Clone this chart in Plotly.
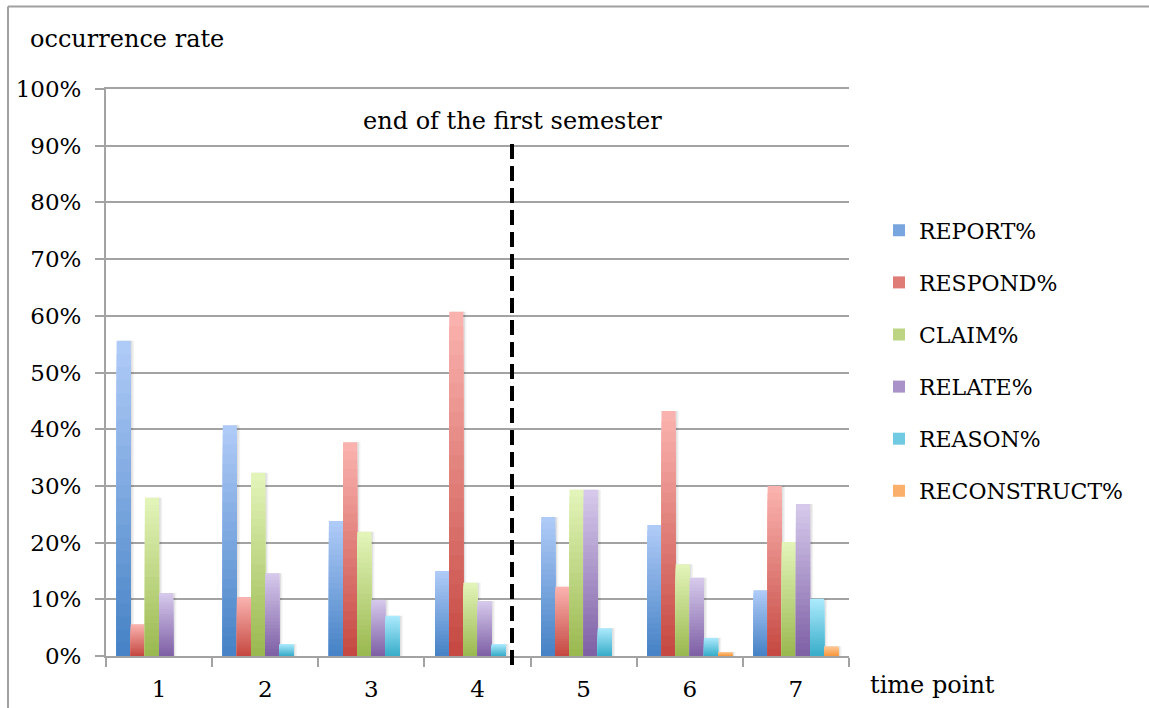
import plotly.graph_objects as go

# ---- data (occurrence rate, %) ----
time_points = ["1", "2", "3", "4", "5", "6", "7"]
report = [55.6, 40.7, 23.8, 15.0, 24.5, 23.1, 11.6]
respond = [5.6, 10.4, 37.7, 60.7, 12.2, 43.2, 30.0]
claim = [27.9, 32.3, 21.9, 12.9, 29.3, 16.2, 20.1]
relate = [11.1, 14.6, 9.9, 9.7, 29.3, 13.8, 26.8]
reason = [0.0, 2.1, 7.1, 2.1, 4.9, 3.2, 10.1]
reconstruct = [0.0, 0.0, 0.0, 0.0, 0.0, 0.7, 1.7]

series_names = ["REPORT%", "RESPOND%", "CLAIM%", "RELATE%", "REASON%", "RECONSTRUCT%"]
series_values = [report, respond, claim, relate, reason, reconstruct]

# (top colour, bottom colour) of each bar's vertical gradient
series_colors = [
    ("#aecaf7", "#4783c6"),
    ("#fab2ae", "#c64a43"),
    ("#e2f4b8", "#9bb951"),
    ("#d5c8eb", "#7f61a6"),
    ("#abe9fc", "#3aaeca"),
    ("#fec897", "#f79a40"),
]

# ---- layout constants ----
W, H = 1149, 708
M_L, M_R, M_T, M_B = 106, 300, 89, 52
PLOT_W = W - M_L - M_R
PLOT_H = H - M_T - M_B
FONT = "DejaVu Serif"
GRID = "#a3a3a3"

N_LAYERS = 24
GROUP_FRAC = 0.8
BAR_W = GROUP_FRAC / len(series_names)


def px_to_paper_x(px):
    return (px - M_L) / PLOT_W


def px_to_paper_y(py):
    return (H - M_B - py) / PLOT_H


def hex_to_rgb(h):
    h = h.lstrip("#")
    return tuple(int(h[i:i + 2], 16) for i in (0, 2, 4))


def mix(c_top, c_bot, t):
    a, b = hex_to_rgb(c_top), hex_to_rgb(c_bot)
    r = [round(a[i] + (b[i] - a[i]) * t) for i in range(3)]
    return f"rgb({r[0]},{r[1]},{r[2]})"


fig = go.Figure()

# soft drop shadows to the right of each bar
for k, vals in enumerate(series_values):
    off = -GROUP_FRAC / 2 + k * BAR_W
    for shift, alpha in ((0.03, 0.05), (0.016, 0.07)):
        fig.add_trace(go.Bar(
            x=time_points, y=vals, offset=off + shift, width=BAR_W,
            marker=dict(color=f"rgba(0,0,0,{alpha})", line=dict(width=0)),
            showlegend=False, hoverinfo="skip",
        ))

# gradient bars: stacked-down layers, lighter at the top, darker at the base
for k, (name, vals) in enumerate(zip(series_names, series_values)):
    off = -GROUP_FRAC / 2 + k * BAR_W
    top, bot = series_colors[k]
    for j in range(N_LAYERS):
        frac = (N_LAYERS - j) / N_LAYERS
        t = j / (N_LAYERS - 1)
        fig.add_trace(go.Bar(
            x=time_points,
            y=[v * frac for v in vals],
            offset=off, width=BAR_W,
            name=name, legendgroup=name,
            marker=dict(color=mix(top, bot, t), line=dict(width=0)),
            showlegend=(j == N_LAYERS // 2),
            hoverinfo="skip" if j else "x+y+name",
        ))

# semester boundary
SEMESTER_BREAK_X = 3.325
fig.add_shape(type="line", xref="x", yref="paper",
              x0=SEMESTER_BREAK_X, x1=SEMESTER_BREAK_X,
              y0=px_to_paper_y(665), y1=px_to_paper_y(138),
              line=dict(color="black", width=4, dash="15px,7px"))

# outer frame (top and left edges)
fig.add_shape(type="line", xref="paper", yref="paper",
              x0=px_to_paper_x(8), x1=px_to_paper_x(W + 2),
              y0=px_to_paper_y(6.5), y1=px_to_paper_y(6.5),
              line=dict(color="#a0a0a0", width=2))
fig.add_shape(type="line", xref="paper", yref="paper",
              x0=px_to_paper_x(8), x1=px_to_paper_x(8),
              y0=px_to_paper_y(6.5), y1=px_to_paper_y(H + 2),
              line=dict(color="#a0a0a0", width=2))

fig.add_annotation(text="end of the first semester", xref="x", yref="paper",
                   x=SEMESTER_BREAK_X, y=px_to_paper_y(121), showarrow=False,
                   xanchor="center", yanchor="middle",
                   font=dict(family=FONT, size=24, color="black"))
fig.add_annotation(text="occurrence rate", xref="paper", yref="paper",
                   x=px_to_paper_x(28), y=px_to_paper_y(39), showarrow=False,
                   xanchor="left", yanchor="middle",
                   font=dict(family=FONT, size=24, color="black"))
fig.add_annotation(text="time point", xref="paper", yref="paper",
                   x=px_to_paper_x(868), y=px_to_paper_y(685), showarrow=False,
                   xanchor="left", yanchor="middle",
                   font=dict(family=FONT, size=24, color="black"))

fig.update_layout(
    width=W, height=H,
    margin=dict(l=M_L, r=M_R, t=M_T, b=M_B, autoexpand=False),
    barmode="overlay",
    bargap=0.2,
    plot_bgcolor="white", paper_bgcolor="white",
    font=dict(family=FONT, size=23, color="black"),
    showlegend=True,
    legend=dict(
        x=px_to_paper_x(879), y=px_to_paper_y(209.5),
        xanchor="left", yanchor="top",
        font=dict(family=FONT, size=22, color="black"),
        tracegroupgap=20.5, bgcolor="rgba(0,0,0,0)",
    ),
    xaxis=dict(
        type="category", categoryorder="array", categoryarray=time_points,
        range=[-0.5, len(time_points) - 0.5],
        automargin=False,
        showline=True, linecolor=GRID, linewidth=2, mirror=True,
        ticks="outside", tickson="boundaries", ticklen=9,
        tickcolor=GRID, tickwidth=2,
        showgrid=False,
        ticklabelstandoff=11,
        tickfont=dict(family=FONT, size=23, color="black"),
    ),
    yaxis=dict(
        range=[0, 100], dtick=10, ticksuffix="%",
        automargin=False,
        showline=True, linecolor=GRID, linewidth=2,
        ticks="outside", ticklen=9, tickcolor=GRID, tickwidth=2,
        showgrid=True, gridcolor=GRID, gridwidth=2,
        zeroline=False,
        ticklabelstandoff=9,
        tickfont=dict(family=FONT, size=23, color="black"),
    ),
)

fig.write_html("out.html")
